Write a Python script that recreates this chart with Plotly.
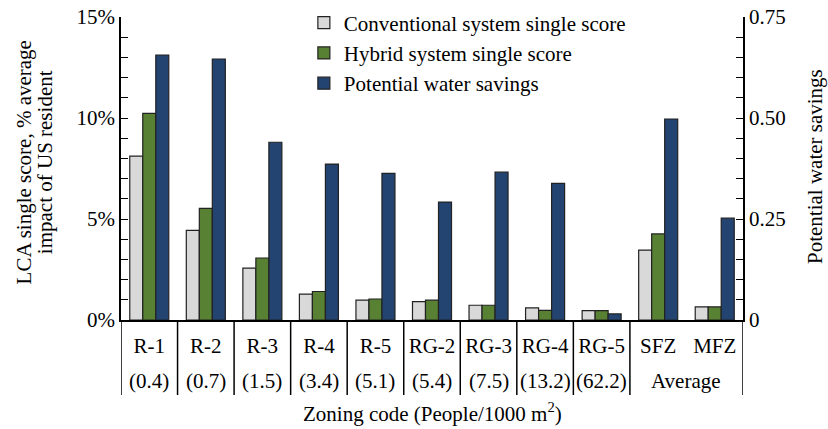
import plotly.graph_objects as go

codes = ["R-1", "R-2", "R-3", "R-4", "R-5", "RG-2", "RG-3", "RG-4", "RG-5", "SFZ", "MFZ"]
densities = ["(0.4)", "(0.7)", "(1.5)", "(3.4)", "(5.1)", "(5.4)", "(7.5)", "(13.2)", "(62.2)", "Average", "Average"]
conventional = [8.11, 4.44, 2.57, 1.28, 0.98, 0.91, 0.73, 0.60, 0.46, 3.46, 0.65]
hybrid = [10.23, 5.53, 3.07, 1.41, 1.04, 0.98, 0.73, 0.48, 0.46, 4.26, 0.65]
water = [0.656, 0.646, 0.44, 0.386, 0.363, 0.292, 0.366, 0.338, 0.015, 0.4975, 0.252]

left_ticks = [0, 5, 10, 15]
left_minor = [1, 2, 3, 4, 6, 7, 8, 9, 11, 12, 13, 14]
right_ticks = [0, 0.25, 0.5, 0.75]
right_labels = ["0", "0.25", "0.50", "0.75"]
right_minor = [0.05, 0.1, 0.15, 0.2, 0.3, 0.35, 0.4, 0.45, 0.55, 0.6, 0.65, 0.7]

FONT = "Liberation Serif"
FS = 21
W = 0.23

fig = go.Figure()
fig.add_trace(go.Bar(x=codes, y=conventional, name="Conventional system single score",
                     marker=dict(color="#d9d9d9", line=dict(color="#222222", width=1.2)),
                     width=W, offset=-1.5 * W, yaxis="y"))
fig.add_trace(go.Bar(x=codes, y=hybrid, name="Hybrid system single score",
                     marker=dict(color="#588133", line=dict(color="#222222", width=1.2)),
                     width=W, offset=-0.5 * W, yaxis="y"))
fig.add_trace(go.Bar(x=codes, y=water, name="Potential water savings",
                     marker=dict(color="#234370", line=dict(color="#222222", width=1.2)),
                     width=W, offset=0.5 * W, yaxis="y2"))

# group the density row (consecutive equal labels form one group)
groups = []
for i, d in enumerate(densities):
    if groups and groups[-1][0] == d:
        groups[-1][2] = i
    else:
        groups.append([d, i, i])

DIV_BOTTOM = -0.2475
annotations = []
shapes = []
for d, i0, i1 in groups:
    annotations.append(dict(x=(i0 + i1) / 2, y=-0.201, xref="x", yref="paper", text=d,
                            showarrow=False, xanchor="center", yanchor="middle",
                            font=dict(family=FONT, size=FS)))
    shapes.append(dict(type="line", xref="x", yref="paper", x0=i0 - 0.5, x1=i0 - 0.5,
                       y0=0, y1=DIV_BOTTOM, line=dict(color="black", width=1.5)))
shapes.append(dict(type="line", xref="x", yref="paper", x0=len(codes) - 0.5, x1=len(codes) - 0.5,
                   y0=0, y1=DIV_BOTTOM, line=dict(color="black", width=1.5)))

annotations += [
    dict(x=0.5, y=-0.304, xref="paper", yref="paper", showarrow=False,
         text="Zoning code (People/1000 m<sup>2</sup>)", xanchor="center", yanchor="middle",
         font=dict(family=FONT, size=FS)),
    dict(x=-0.156, y=0.52, xref="paper", yref="paper", showarrow=False, textangle=-90,
         text="LCA single score, % average", xanchor="center",
         yanchor="middle", font=dict(family=FONT, size=FS)),
    dict(x=-0.121, y=0.52, xref="paper", yref="paper", showarrow=False, textangle=-90,
         text="impact of US resident", xanchor="center",
         yanchor="middle", font=dict(family=FONT, size=FS)),
    dict(x=1.1158, y=0.505, xref="paper", yref="paper", showarrow=False, textangle=-90,
         text="Potential water savings", xanchor="center", yanchor="middle",
         font=dict(family=FONT, size=FS)),
]

fig.update_layout(
    width=828, height=429,
    margin=dict(l=121, r=85, t=17, b=109, autoexpand=False),
    plot_bgcolor="white", paper_bgcolor="white",
    font=dict(family=FONT, size=FS, color="black"),
    showlegend=True,
    legend=dict(x=0.294, y=1.048, xanchor="left", yanchor="top", bgcolor="rgba(0,0,0,0)",
                traceorder="normal", font=dict(family=FONT, size=FS), tracegroupgap=0),
    annotations=annotations,
    shapes=shapes,
    xaxis=dict(type="category", showline=True, linecolor="black", linewidth=1.5,
               ticks="", showgrid=False, automargin=False, ticklabelstandoff=6,
               ticklabeloverflow="allow",
               range=[-0.5, len(codes) - 0.5],
               tickfont=dict(family=FONT, size=FS)),
    yaxis=dict(range=[0, 15], tickmode="array", tickvals=left_ticks,
               ticktext=[f"{v}%" for v in left_ticks], automargin=False,
               ticklabeloverflow="allow",
               ticks="inside", ticklen=7, tickwidth=1.2, tickcolor="black",
               showline=True, linecolor="black", linewidth=1.5, showgrid=False, zeroline=False,
               minor=dict(tickmode="array", tickvals=left_minor, ticks="inside", ticklen=7,
                          tickwidth=1.2, tickcolor="black", showgrid=False),
               tickfont=dict(family=FONT, size=FS)),
    yaxis2=dict(overlaying="y", side="right", range=[0, 0.75], tickmode="array",
                tickvals=right_ticks, ticktext=right_labels, automargin=False,
                ticklabeloverflow="allow",
                ticks="inside", ticklen=7, tickwidth=1.2, tickcolor="black",
                showline=True, linecolor="black", linewidth=1.5, showgrid=False, zeroline=False,
                minor=dict(tickmode="array", tickvals=right_minor, ticks="inside", ticklen=7,
                           tickwidth=1.2, tickcolor="black", showgrid=False),
                tickfont=dict(family=FONT, size=FS)),
)

# remove the default page margin so the 828x429 figure fills the window exactly
fig.write_html("out.html", config={"displayModeBar": False},
               post_script="document.body.style.margin='0';")
